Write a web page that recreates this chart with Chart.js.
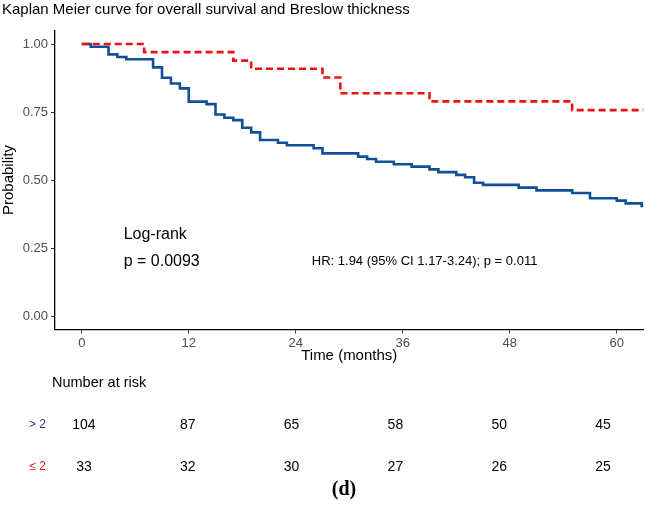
<!DOCTYPE html>
<html lang="en">
    <head>
        <meta charset="utf-8" />
        <title>Kaplan Meier</title>
        <style>
            body { margin: 0; background: #fff; }
            canvas { display: block; }
        </style>
    </head>
    <body>
        <canvas id="km" width="646" height="505"></canvas>

        <script src="https://cdn.jsdelivr.net/npm/chart.js@4.4.0/dist/chart.umd.min.js"></script>

        <script>
            // curves (time in months, survival probability)
            const highTimes = [0, 1, 3, 4, 5, 8, 9, 10, 11, 12, 14, 15, 16, 17, 18, 19, 20, 22, 23, 26, 27, 31, 32, 33, 35, 37, 39, 40, 42, 43, 44, 45, 49, 51, 55, 57, 60, 61, 62.8, 63];
            const highSurv = [1, 0.99, 0.962, 0.952, 0.944, 0.914, 0.876, 0.855, 0.837, 0.788, 0.779, 0.741, 0.729, 0.72, 0.692, 0.675, 0.647, 0.637, 0.628, 0.617, 0.598, 0.586, 0.577, 0.567, 0.558, 0.549, 0.539, 0.529, 0.519, 0.51, 0.49, 0.482, 0.472, 0.462, 0.452, 0.433, 0.424, 0.414, 0.405, 0.405];
            const lowTimes = [0, 7, 17, 19, 27, 29, 39, 55, 63];
            const lowSurv = [1, 0.97, 0.939, 0.909, 0.877, 0.819, 0.789, 0.757, 0.757];

            const xTicks = [0, 12, 24, 36, 48, 60];
            const yTicks = [0, 0.25, 0.5, 0.75, 1];

            // number at risk table
            const riskTimes = [0, 12, 24, 36, 48, 60];
            const riskHigh = [104, 87, 65, 58, 50, 45];
            const riskLow = [33, 32, 30, 27, 26, 25];

            const blue = "#114f97";
            const red = "#ee1111";
            const sans = '"Liberation Sans", Arial, Helvetica, sans-serif';

            function pts(ts, ss) {
                return ts.map(function (t, i) { return { x: t, y: ss[i] }; });
            }

            // texts, axis titles and the risk table
            const extras = {
                id: "extras",
                afterDraw(chart) {
                    const ctx = chart.ctx;
                    const x = chart.scales.x;
                    const y = chart.scales.y;
                    const r = chart.scales.risk;
                    const a = chart.chartArea;
                    ctx.save();
                    ctx.fillStyle = "#000";
                    ctx.textBaseline = "middle";

                    ctx.font = "15px " + sans;
                    ctx.textAlign = "left";
                    ctx.fillText("Kaplan Meier curve for overall survival and Breslow thickness", 2, 10);

                    ctx.textAlign = "center";
                    ctx.fillText("Time (months)", (a.left + a.right) / 2, 356);
                    ctx.save();
                    ctx.translate(9, (a.top + a.bottom) / 2);
                    ctx.rotate(-Math.PI / 2);
                    ctx.fillText("Probability", 0, 0);
                    ctx.restore();

                    // log-rank / HR
                    ctx.textAlign = "left";
                    ctx.font = "16px " + sans;
                    ctx.fillText("Log-rank", x.getPixelForValue(4.7), y.getPixelForValue(0.298));
                    ctx.fillText("p = 0.0093", x.getPixelForValue(4.7), y.getPixelForValue(0.2));
                    ctx.font = "13px " + sans;
                    ctx.fillText("HR: 1.94 (95% CI 1.17-3.24); p = 0.011", x.getPixelForValue(25.8), y.getPixelForValue(0.2));

                    // risk table
                    ctx.font = "14.5px " + sans;
                    ctx.fillText("Number at risk", 52, 383);
                    ctx.textAlign = "right";
                    ctx.font = "12px " + sans;
                    ctx.fillStyle = "#27358f";
                    ctx.fillText("> 2", 46, 425);
                    ctx.fillStyle = red;
                    ctx.fillText("≤ 2", 46, 467);
                    ctx.fillStyle = "#000";
                    ctx.textAlign = "center";
                    ctx.font = "14px " + sans;
                    riskTimes.forEach(function (t, i) {
                        ctx.fillText(String(riskHigh[i]), r.getPixelForValue(t), 425);
                        ctx.fillText(String(riskLow[i]), r.getPixelForValue(t), 467);
                    });

                    ctx.font = 'bold 20px "Liberation Serif", "Times New Roman", serif';
                    ctx.fillText("(d)", 344, 490);
                    ctx.restore();
                },
            };

            new Chart(document.getElementById("km").getContext("2d"), {
                type: "line",
                data: {
                    datasets: [
                        {
                            label: "≤ 2",
                            data: pts(lowTimes, lowSurv),
                            stepped: "before",
                            borderColor: red,
                            borderWidth: 2.6,
                            borderDash: [7, 4],
                            pointRadius: 0,
                            fill: false,
                        },
                        {
                            label: "> 2",
                            data: pts(highTimes, highSurv),
                            stepped: "before",
                            borderColor: blue,
                            borderWidth: 2.6,
                            pointRadius: 0,
                            fill: false,
                        },
                    ],
                },
                options: {
                    responsive: false,
                    animation: false,
                    layout: { padding: { top: 30.4, right: 2.5, left: 0, bottom: 0 } },
                    plugins: { legend: { display: false }, tooltip: { enabled: false } },
                    scales: {
                        x: {
                            type: "linear",
                            min: -3,
                            max: 63,
                            afterBuildTicks: function (s) { s.ticks = xTicks.map(function (v) { return { value: v }; }); },
                            afterFit: function (s) { s.height = 175.4; },
                            grid: { drawOnChartArea: false, tickLength: 4, color: "#333", lineWidth: 1 },
                            border: { color: "#000", width: 1.3 },
                            ticks: { color: "#4d4d4d", padding: 2, maxRotation: 0, font: { size: 13, family: sans } },
                        },
                        risk: {
                            type: "linear",
                            axis: "x",
                            position: "bottom",
                            display: false,
                            min: -3.35,
                            max: 64.68,
                        },
                        y: {
                            min: -0.05,
                            max: 1.05,
                            afterBuildTicks: function (s) { s.ticks = yTicks.map(function (v) { return { value: v }; }); },
                            afterFit: function (s) { s.width = 55; },
                            grid: { drawOnChartArea: false, tickLength: 4, color: "#333", lineWidth: 1 },
                            border: { color: "#000", width: 1.3 },
                            ticks: {
                                color: "#4d4d4d",
                                padding: 3,
                                font: { size: 13, family: sans },
                                callback: function (v) { return v.toFixed(2); },
                            },
                        },
                    },
                },
                plugins: [extras],
            });
        </script>
    </body>
</html>
